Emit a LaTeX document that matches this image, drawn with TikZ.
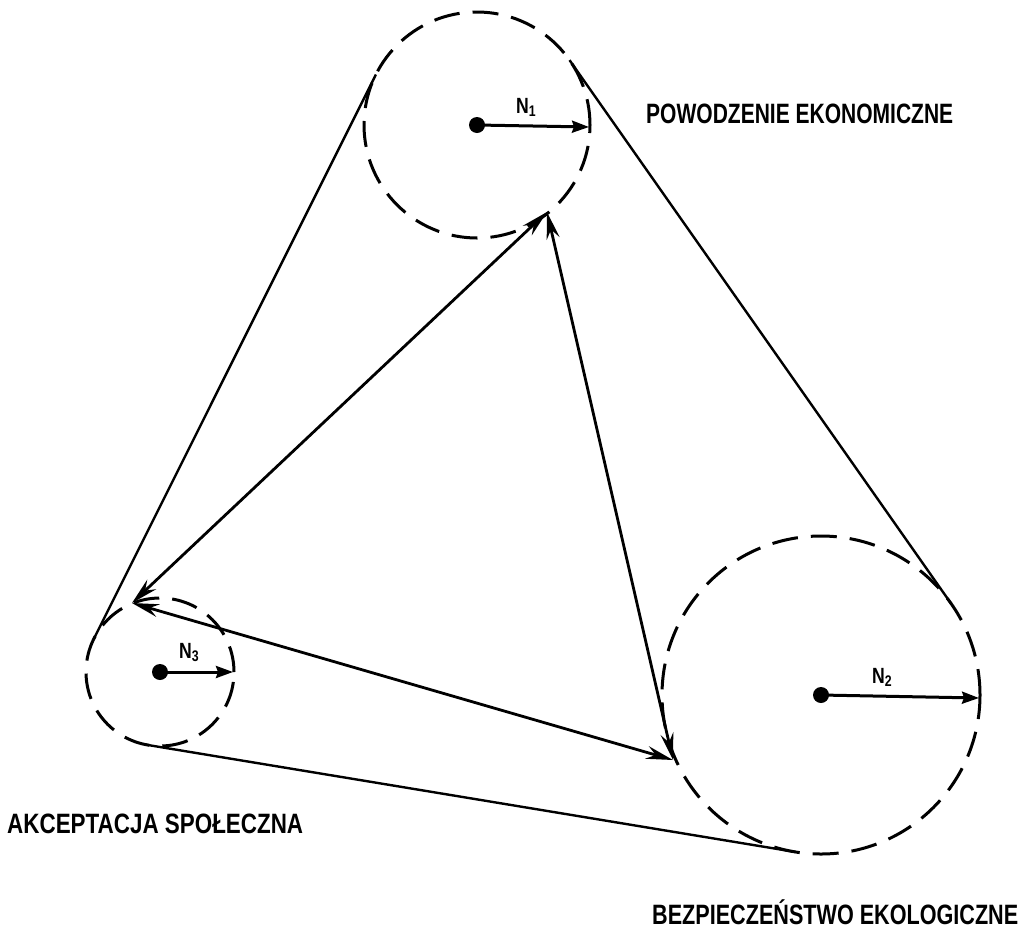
\documentclass[tikz,border=0pt]{standalone}
\usepackage{fontspec}
\setmainfont{Liberation Sans}
\usetikzlibrary{arrows.meta}
\begin{document}
\begin{tikzpicture}[x=1pt,y=-1pt,
  circ/.style={draw, line width=3pt, dash pattern=on 26pt off 13pt},
  tang/.style={draw, line width=2.4pt},
  link/.style={line width=2.8pt, {Stealth[length=27pt,width=13pt,inset=9pt]}-{Stealth[length=27pt,width=13pt,inset=9pt]}},
  radarrow/.style={line width=3pt, -{Stealth[length=17pt,width=12pt,inset=2pt]}},
  ctr/.style={circle, fill, inner sep=0pt, minimum size=16pt},
  lbl/.style={inner sep=0pt, anchor=base west, font=\fontsize{28}{28}\selectfont\bfseries},
  nlbl/.style={inner sep=0pt, anchor=base west, font=\fontsize{22}{22}\selectfont\bfseries}
]
\useasboundingbox (0,0) rectangle (1032,932);
% centres
\coordinate (c1) at (477,125);
\coordinate (c2) at (821,695);
\coordinate (c3) at (160,672);
% circles
\draw[circ] (c1) circle[radius=113pt];
\draw[circ] (c2) circle[radius=159pt];
\draw[circ] (c3) circle[radius=74pt];
% tangent lines
\coordinate (t1l) at (375.9,74.5);
\coordinate (t3l) at (93.8,638.9);
\coordinate (t1r) at (569.5,60.1);
\coordinate (t2r) at (951.1,603.6);
\coordinate (t3b) at (147.9,745.0);
\coordinate (t2b) at (795.1,851.9);
\draw[tang] (t1l) -- (t3l);
\draw[tang] (t1r) -- (t2r);
\draw[tang] (t3b) -- (t2b);
% triangle vertices
\coordinate (A) at (547,212);
\coordinate (B) at (132,603);
\coordinate (C) at (673,760);
\draw[link] (A) -- (B);
\draw[link] (A) -- (C);
\draw[link] (B) -- (C);
% radii
\node[ctr] (d1) at (c1) {};
\node[ctr] (d2) at (c2) {};
\node[ctr] (d3) at (c3) {};
\coordinate (e1) at (589,127);
\coordinate (e2) at (979,698);
\coordinate (e3) at (233,672);
\draw[radarrow] (d1.center) -- (e1);
\draw[radarrow] (d2.center) -- (e2);
\draw[radarrow] (d3.center) -- (e3);
\node[nlbl] (n1) at (516,113) {\scalebox{0.8}[1]{N\textsubscript{1}}};
\node[nlbl] (n2) at (872,683) {\scalebox{0.8}[1]{N\textsubscript{2}}};
\node[nlbl] (n3) at (179,658) {\scalebox{0.8}[1]{N\textsubscript{3}}};
% labels
\node[lbl] (l1) at (646,123) {\resizebox{307pt}{\height}{POWODZENIE EKONOMICZNE}};
\node[lbl] (l3) at (7,833) {\resizebox{296pt}{\height}{AKCEPTACJA SPOŁECZNA}};
\node[lbl] (l2) at (652,924) {\resizebox{366pt}{\height}{BEZPIECZEŃSTWO EKOLOGICZNE}};
\end{tikzpicture}
\end{document}
